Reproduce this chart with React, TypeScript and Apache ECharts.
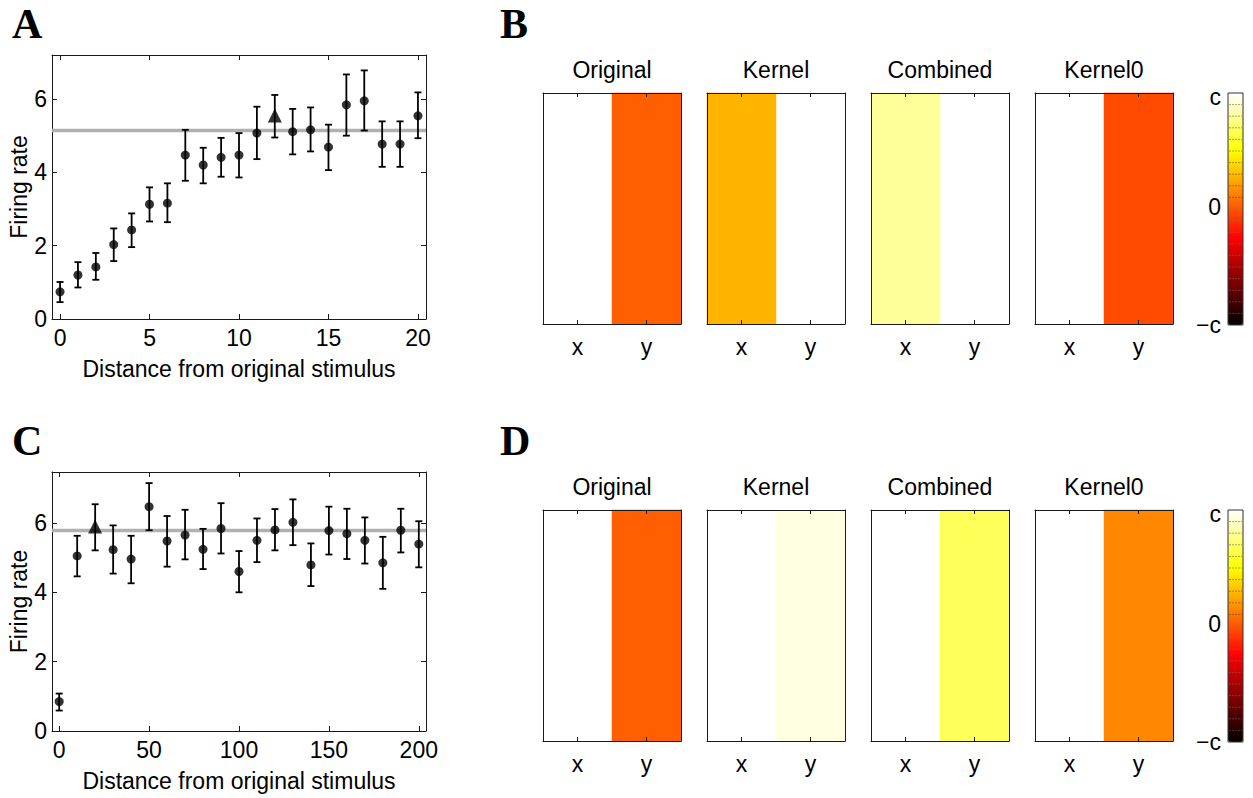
import React, { useEffect, useRef } from "react";
import * as echarts from "echarts";

// ---------------- data ----------------
const distA = [0, 1, 2, 3, 4, 5, 6, 7, 8, 9, 10, 11, 12, 13, 14, 15, 16, 17, 18, 19, 20];
const rateA = [0.74, 1.2, 1.42, 2.03, 2.43, 3.13, 3.16, 4.47, 4.2, 4.41, 4.47, 5.07, 5.55, 5.11, 5.16, 4.69, 5.84, 5.95, 4.77, 4.77, 5.54];
const lowA = [0.46, 0.86, 1.07, 1.58, 1.96, 2.66, 2.64, 3.77, 3.7, 3.88, 3.86, 4.36, 4.95, 4.49, 4.57, 4.06, 5.0, 5.14, 4.15, 4.15, 4.93];
const highA = [1.01, 1.55, 1.8, 2.47, 2.88, 3.59, 3.7, 5.16, 4.67, 4.94, 5.07, 5.79, 6.11, 5.73, 5.77, 5.3, 6.67, 6.78, 5.39, 5.39, 6.18];
const meanA = 5.14;
const triangleIndexA = 12;

const distC = [0, 10, 20, 30, 40, 50, 60, 70, 80, 90, 100, 110, 120, 130, 140, 150, 160, 170, 180, 190, 200];
const rateC = [0.85, 5.05, 5.9, 5.23, 4.96, 6.47, 5.48, 5.65, 5.24, 5.84, 4.6, 5.5, 5.8, 6.02, 4.79, 5.78, 5.69, 5.5, 4.85, 5.79, 5.39];
const lowC = [0.59, 4.46, 5.21, 4.54, 4.26, 5.79, 4.74, 4.95, 4.67, 5.12, 4.0, 4.87, 5.21, 5.36, 4.18, 5.09, 4.96, 4.83, 4.1, 5.15, 4.72];
const highC = [1.08, 5.63, 6.54, 5.93, 5.63, 7.15, 6.2, 6.38, 5.83, 6.57, 5.19, 6.13, 6.4, 6.68, 5.41, 6.47, 6.41, 6.16, 5.6, 6.41, 6.05];
const meanC = 5.78;
const triangleIndexC = 2;

const xTicksA = [0, 5, 10, 15, 20];
const xTicksC = [0, 50, 100, 150, 200];
const yTicks = [0, 2, 4, 6];

const kernelTitles = ["Original", "Kernel", "Combined", "Kernel0"];
const cellLabels = ["x", "y"];
// values on the colour scale (-c .. c mapped to -1 .. 1); null = empty cell
const panelB: (number | null)[][] = [
  [null, 0.03],
  [0.28, null],
  [0.8, null],
  [null, -0.03],
];
const panelD: (number | null)[][] = [
  [null, 0.03],
  [null, 0.94],
  [null, 0.675],
  [null, 0.15],
];
const colorbarLabels = ["c", "0", "\u2212c"];
const hotColors = ["#000000", "#550000", "#aa0000", "#ff0000", "#ff5500", "#ffaa00", "#ffff00", "#ffff80", "#ffffff"];
const colorbarSteps = 20;

// ---------------- layout ----------------
const FONT = '"Liberation Sans", Arial, Helvetica, sans-serif';
const SERIF = '"Liberation Serif", "Times New Roman", serif';
const AX = "#1a1a1a";
const FS = 23;

function buildOption() {
  const grid: any[] = [];
  const xAxis: any[] = [];
  const yAxis: any[] = [];
  const series: any[] = [];
  const graphic: any[] = [];
  const visualMap: any[] = [];

  const axisLineStyle = { color: AX, width: 1 };
  const labelStyle = { fontSize: FS, color: "#000", fontFamily: FONT };

  const scatterPanel = (
    box: { left: number; top: number; width: number; height: number },
    xMin: number,
    xMax: number,
    yMax: number,
    xTicks: number[],
    xs: number[],
    rate: number[],
    low: number[],
    high: number[],
    mean: number,
    tri: number
  ) => {
    grid.push({ ...box, show: false, containLabel: false, outerBoundsMode: "none" });
    const gi = grid.length - 1;
    const common = {
      gridIndex: gi,
      type: "value",
      min: xMin,
      max: xMax,
      axisLine: { show: true, onZero: false, lineStyle: axisLineStyle },
      axisTick: { show: true, inside: true, length: 5, customValues: xTicks, lineStyle: axisLineStyle },
      splitLine: { show: false },
    };
    xAxis.push({
      ...common,
      position: "bottom",
      axisLabel: { ...labelStyle, customValues: xTicks, margin: 7 },
      name: "Distance from original stimulus",
      nameLocation: "middle",
      nameGap: 38,
      nameTextStyle: labelStyle,
    });
    const xi = xAxis.length - 1;
    xAxis.push({ ...common, position: "top", axisLabel: { show: false } });
    const ycommon = {
      gridIndex: gi,
      type: "value",
      min: 0,
      max: yMax,
      axisLine: { show: true, onZero: false, lineStyle: axisLineStyle },
      axisTick: { show: true, inside: true, length: 5, customValues: yTicks, lineStyle: axisLineStyle },
      splitLine: { show: false },
    };
    yAxis.push({
      ...ycommon,
      position: "left",
      axisLabel: { ...labelStyle, customValues: yTicks, margin: 5 },
      name: "Firing rate",
      nameLocation: "middle",
      nameGap: 20,
      nameRotate: 90,
      nameTextStyle: labelStyle,
    });
    const yi = yAxis.length - 1;
    yAxis.push({ ...ycommon, position: "right", axisLabel: { show: false } });

    // mean line
    series.push({
      type: "line",
      xAxisIndex: xi,
      yAxisIndex: yi,
      data: [
        [xMin, mean],
        [xMax, mean],
      ],
      symbol: "none",
      lineStyle: { color: "#b0b0b0", width: 3.5 },
      silent: true,
      z: 1,
    });
    // error bars
    series.push({
      type: "custom",
      xAxisIndex: xi,
      yAxisIndex: yi,
      silent: true,
      z: 3,
      data: xs.map((x, i) => [x, low[i], high[i]]),
      renderItem: (params: any, api: any) => {
        const x = api.value(0);
        const lo = api.coord([x, api.value(1)]);
        const hi = api.coord([x, api.value(2)]);
        const hw = 3.5;
        const style = { stroke: "#000", lineWidth: 1.8, fill: null };
        return {
          type: "group",
          children: [
            { type: "line", shape: { x1: lo[0], y1: lo[1], x2: hi[0], y2: hi[1] }, style },
            { type: "line", shape: { x1: lo[0] - hw, y1: lo[1], x2: lo[0] + hw, y2: lo[1] }, style },
            { type: "line", shape: { x1: hi[0] - hw, y1: hi[1], x2: hi[0] + hw, y2: hi[1] }, style },
          ],
        };
      },
    });
    // points
    series.push({
      type: "scatter",
      xAxisIndex: xi,
      yAxisIndex: yi,
      data: xs.map((x, i) => [x, rate[i]]),
      symbol: (_v: any, p: any) => (p.dataIndex === tri ? "triangle" : "circle"),
      symbolSize: (_v: any, p: any) => (p.dataIndex === tri ? 14 : 9),
      itemStyle: { color: "#000" },
      silent: true,
      z: 4,
    });
  };

  scatterPanel({ left: 52, top: 55, width: 374, height: 264 }, -0.45, 20.45, 7.2, xTicksA, distA, rateA, lowA, highA, meanA, triangleIndexA);
  scatterPanel({ left: 52, top: 472, width: 374, height: 259 }, -4, 204, 7.47, xTicksC, distC, rateC, lowC, highC, meanC, triangleIndexC);

  const heatLefts = [543, 707, 871, 1035];
  const heatW = 138;
  const heatPanel = (panel: (number | null)[][], top: number, height: number) => {
    const idx: number[] = [];
    panel.forEach((cells, k) => {
      grid.push({ left: heatLefts[k], top, width: heatW, height, show: false, containLabel: false, outerBoundsMode: "none" });
      const gi = grid.length - 1;
      const xc = {
        gridIndex: gi,
        type: "category",
        data: cellLabels,
        z: 10,
        axisLine: { show: true, lineStyle: axisLineStyle },
        axisTick: { show: true, inside: true, alignWithLabel: true, length: 4, lineStyle: axisLineStyle },
        splitLine: { show: false },
      };
      xAxis.push({ ...xc, position: "bottom", axisLabel: { ...labelStyle, margin: 11 } });
      const xi = xAxis.length - 1;
      xAxis.push({ ...xc, position: "top", axisLabel: { show: false } });
      const yc = {
        gridIndex: gi,
        type: "category",
        data: [""],
        z: 10,
        axisLine: { show: true, lineStyle: axisLineStyle },
        axisTick: { show: false },
        axisLabel: { show: false },
        splitLine: { show: false },
      };
      yAxis.push({ ...yc, position: "left" });
      const yi = yAxis.length - 1;
      yAxis.push({ ...yc, position: "right" });
      series.push({
        type: "heatmap",
        xAxisIndex: xi,
        yAxisIndex: yi,
        silent: true,
        emphasis: { disabled: true },
        data: cells.map((v, i) => (v === null ? null : [i, 0, v])).filter((d) => d !== null),
      });
      idx.push(series.length - 1);
      graphic.push({
        type: "text",
        x: heatLefts[k] + heatW / 2,
        y: top - 23,
        style: { text: kernelTitles[k], font: `${FS}px ${FONT}`, fill: "#000", textAlign: "center", textVerticalAlign: "middle" },
      });
    });
    const cbLeft = 1228;
    const cbW = 15;
    const cbTop = top;
    const cbH = height + 1;
    visualMap.push({
      type: "continuous",
      min: -1,
      max: 1,
      seriesIndex: idx,
      inRange: { color: hotColors },
      left: cbLeft,
      top: cbTop,
      itemWidth: cbW,
      itemHeight: cbH,
      calculable: false,
      hoverLink: false,
      padding: 0,
      text: null,
      orient: "vertical",
    });
    for (let i = 1; i < colorbarSteps; i++) {
      const y = cbTop + (cbH * i) / colorbarSteps;
      graphic.push({
        type: "line",
        shape: { x1: cbLeft + 1, y1: y, x2: cbLeft + cbW - 1, y2: y },
        style: { stroke: i < colorbarSteps / 2 ? "#333" : "#777", lineWidth: 0.8, lineDash: [2, 1], opacity: 0.55 },
        z: 99,
      });
    }
    graphic.push({
      type: "rect",
      shape: { x: cbLeft, y: cbTop, width: cbW, height: cbH },
      style: { fill: "none", stroke: "#333", lineWidth: 1 },
      z: 100,
    });
    const ys = [cbTop + 4, cbTop + cbH / 2 - 2, cbTop + cbH];
    colorbarLabels.forEach((t, i) => {
      graphic.push({
        type: "text",
        x: cbLeft - 7,
        y: ys[i],
        style: { text: t, font: `${FS}px ${FONT}`, fill: "#000", textAlign: "right", textVerticalAlign: "middle" },
      });
    });
  };

  heatPanel(panelB, 93, 231);
  heatPanel(panelD, 510, 231);

  const letters: [string, number, number][] = [
    ["A", 12, 3],
    ["B", 500, 3],
    ["C", 12, 420],
    ["D", 500, 420],
  ];
  letters.forEach(([t, x, y]) => {
    graphic.push({
      type: "text",
      x,
      y,
      style: { text: t, font: `bold 42px ${SERIF}`, fill: "#000", textAlign: "left", textVerticalAlign: "top" },
    });
  });

  return {
    animation: false,
    backgroundColor: "#ffffff",
    grid,
    xAxis,
    yAxis,
    series,
    visualMap,
    graphic,
  };
}

export default function App() {
  const ref = useRef<HTMLDivElement>(null);
  useEffect(() => {
    if (!ref.current) return;
    const chart = echarts.init(ref.current, null, { renderer: "svg" });
    chart.setOption(buildOption() as any);
    return () => chart.dispose();
  }, []);
  return <div ref={ref} style={{ position: "absolute", left: 0, top: 0, width: 1253, height: 798 }} />;
}
